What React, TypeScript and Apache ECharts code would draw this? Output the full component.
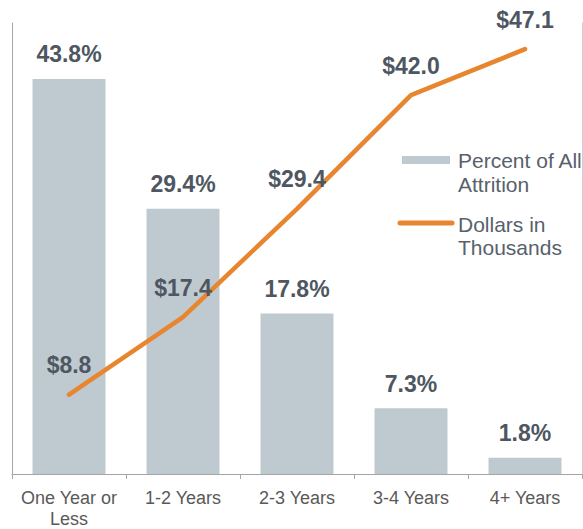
import React, { useEffect, useRef } from "react";
import * as echarts from "echarts";

const categories = ["One Year or\nLess", "1-2 Years", "2-3 Years", "3-4 Years", "4+ Years"];
const percentAttrition = [43.8, 29.4, 17.8, 7.3, 1.8];
const dollarsThousands = [8.8, 17.4, 29.4, 42.0, 47.1];
const legendNames = ["Percent of All\nAttrition", "Dollars in\nThousands"];

const BAR_COLOR = "#BFC9D0";
const LINE_COLOR = "#E8862F";
const LABEL_COLOR = "#4E5761";
const AXIS_COLOR = "#A6A6A6";
const FONT = "'Liberation Sans', Arial, Helvetica, sans-serif";

export default function App() {
  const ref = useRef<HTMLDivElement>(null);
  useEffect(() => {
    if (!ref.current) return;
    const chart = echarts.init(ref.current, null, { renderer: "svg" });
    chart.setOption({
      animation: false,
      textStyle: { fontFamily: FONT },
      grid: { left: 12, right: 1, top: 23, bottom: 52 },
      xAxis: {
        type: "category",
        data: categories,
        axisLine: { show: true, lineStyle: { color: AXIS_COLOR, width: 1 } },
        axisTick: { show: true, length: 5, lineStyle: { color: AXIS_COLOR } },
        axisLabel: {
          interval: 0,
          margin: 13,
          fontSize: 18,
          lineHeight: 21,
          color: "#595959",
          fontFamily: FONT,
        },
      },
      yAxis: [
        {
          type: "value",
          min: 0,
          max: 50,
          axisLine: { show: true, lineStyle: { color: AXIS_COLOR } },
          axisTick: { show: false },
          axisLabel: { show: false },
          splitLine: { show: false },
        },
        {
          type: "value",
          min: 0,
          max: 50,
          position: "right",
          axisLine: { show: true, lineStyle: { color: "#D0D0D0" } },
          axisTick: { show: false },
          axisLabel: { show: false },
          splitLine: { show: false },
        },
      ],
      series: [
        {
          name: legendNames[0],
          type: "bar",
          yAxisIndex: 0,
          data: percentAttrition,
          barWidth: "64%",
          itemStyle: { color: BAR_COLOR },
          label: {
            show: true,
            position: "top",
            distance: 13,
            formatter: (p: any) => p.value.toFixed(1) + "%",
            fontSize: 23,
            fontWeight: "bold",
            color: LABEL_COLOR,
            fontFamily: FONT,
          },
        },
        {
          name: legendNames[1],
          type: "line",
          yAxisIndex: 1,
          data: dollarsThousands,
          symbol: "circle",
          symbolSize: 0,
          showSymbol: true,
          itemStyle: { color: LINE_COLOR },
          lineStyle: { color: LINE_COLOR, width: 4.5, cap: "round", join: "round" },
          label: {
            show: true,
            position: "top",
            distance: 18,
            formatter: (p: any) => "$" + p.value.toFixed(1),
            fontSize: 23,
            fontWeight: "bold",
            color: LABEL_COLOR,
            fontFamily: FONT,
          },
          z: 3,
        },
      ],
      graphic: [
        {
          type: "rect",
          shape: { x: 402, y: 156, width: 48, height: 8 },
          style: { fill: BAR_COLOR },
        },
        {
          type: "text",
          x: 458,
          y: 148,
          style: {
            text: legendNames[0],
            font: `21px ${FONT}`,
            lineHeight: 24.5,
            fill: "#58616B",
            verticalAlign: "top",
          },
        },
        {
          type: "line",
          shape: { x1: 400, y1: 223, x2: 452, y2: 223 },
          style: { stroke: LINE_COLOR, lineWidth: 5, lineCap: "round" },
        },
        {
          type: "text",
          x: 458,
          y: 212.5,
          style: {
            text: legendNames[1],
            font: `21px ${FONT}`,
            lineHeight: 23.5,
            fill: "#58616B",
            verticalAlign: "top",
          },
        },
      ],
    });
    return () => chart.dispose();
  }, []);
  return (
    <div
      ref={ref}
      style={{ position: "fixed", left: 0, top: 0, width: 583, height: 529, background: "#fff" }}
    />
  );
}
